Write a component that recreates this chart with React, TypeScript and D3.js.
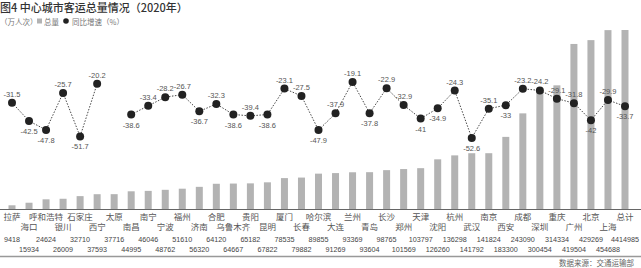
import React from "react";
import * as d3 from "d3";

const categories = ["拉萨","海口","呼和浩特","银川","石家庄","西宁","太原","南昌","南宁","宁波","福州","济南","合肥","乌鲁木齐","贵阳","昆明","厦门","长春","哈尔滨","大连","兰州","青岛","长沙","郑州","天津","沈阳","杭州","武汉","南京","西安","成都","深圳","重庆","广州","北京","上海","总计"];
const totals = [9418,15934,24624,26009,32710,37593,37716,44995,46046,48762,51610,56320,64120,64667,65182,67822,78535,79882,89855,91269,93369,93604,98765,101569,103797,126260,136298,141792,141824,183300,243090,300454,314334,419504,429269,454688,4414985];
const growth: (number | null)[] = [-31.5,-42.5,-47.8,-25.7,-51.7,-20.2,null,-38.6,-33.4,-28.2,-26.7,-36.7,-32.3,-38.6,-39.4,-38.6,-23.1,-27.5,-47.9,-37.9,-19.1,-37.8,-22.9,-32.9,-41,-34.9,-24.3,-52.6,-35.1,-33,-23.2,-24.2,-29.1,-31.8,-42,-29.9,-33.7];
const labelSide = ["a","b","b","a","b","a","","b","a","a","a","b","a","b","a","b","a","a","b","a","a","b","a","a","b","b","a","b","a","b","a","a","a","a","b","a","b"];

const W = 641, H = 268;
const FONT = "'Noto Sans CJK SC', 'Noto Sans', sans-serif";
const NUMFONT = "'Liberation Sans', 'DejaVu Sans', sans-serif";

export default function App() {
  const x = d3.scalePoint<string>().domain(categories).range([12, 625]);
  const yBar = d3.scaleLinear().domain([0, 455000]).range([209, 30]);
  const yLine = d3.scaleLinear().domain([-60, 0]).range([150.3, 50]);
  const barW = 7;

  const pts = categories.map((c, i) => ({ c, v: growth[i], i }));
  const line = d3
    .line<{ c: string; v: number | null }>()
    .defined((d) => d.v != null)
    .x((d) => x(d.c)!)
    .y((d) => yLine(d.v as number));

  return (
    <svg width={W} height={H} style={{ position: "absolute", left: 0, top: 0, background: "#fff" }}>
      <defs>
        <clipPath id="plotclip">
          <rect x={0} y={30} width={W} height={180} />
        </clipPath>
      </defs>
      <text x={0} y={11.5} fontFamily={FONT} fontSize={11} fontWeight={500} fill="#333">
        图4 中心城市客运总量情况（2020年）
      </text>
      <g fontFamily={FONT} fontSize={7.5} fill="#777">
        <text x={0} y={24.5}>（万人次）</text>
        <rect x={37} y={18.5} width={5} height={5} fill="#b3b3b3" />
        <text x={44} y={24.5}>总量</text>
        <circle cx={66} cy={21} r={2.8} fill="#222" />
        <text x={72} y={24.5}>同比增速（%）</text>
      </g>

      <g clipPath="url(#plotclip)">
        {categories.map((c, i) => (
          <rect
            key={c}
            x={x(c)! - barW / 2}
            y={yBar(totals[i])}
            width={barW}
            height={209 - yBar(totals[i])}
            fill="#b3b3b3"
          />
        ))}
      </g>
      <line x1={0} x2={W} y1={209.5} y2={209.5} stroke="#666" strokeWidth={1} />

      <path d={line(pts) || ""} fill="none" stroke="#333" strokeWidth={0.9} strokeDasharray="1.5,1.5" />
      {pts.map((p) =>
        p.v == null ? null : (
          <g key={p.c}>
            <circle cx={x(p.c)} cy={yLine(p.v)} r={4} fill="#222" />
            <text
              x={x(p.c)}
              y={labelSide[p.i] === "a" ? yLine(p.v) - 6 : yLine(p.v) + 13}
              textAnchor="middle"
              fontFamily={NUMFONT}
              fontSize={7.5}
              fill="#555"
            >
              {p.v}
            </text>
          </g>
        )
      )}

      <g fontFamily={FONT} fontSize={8.5} fill="#555" textAnchor="middle">
        {categories.map((c, i) => (
          <text key={c} x={x(c)} y={i % 2 === 0 ? 220 : 230}>
            {c}
          </text>
        ))}
      </g>
      <g fontFamily={NUMFONT} fontSize={7.2} fill="#444" textAnchor="middle">
        {categories.map((c, i) => (
          <text key={c} x={Math.max(x(c)!, 11)} y={i % 2 === 0 ? 242 : 252}>
            {totals[i]}
          </text>
        ))}
      </g>
      <line x1={0} x2={W} y1={256.5} y2={256.5} stroke="#999" strokeWidth={1.5} />
      <text x={634} y={266} textAnchor="end" fontFamily={FONT} fontSize={7.5} fill="#666">
        数据来源：交通运输部
      </text>
    </svg>
  );
}
